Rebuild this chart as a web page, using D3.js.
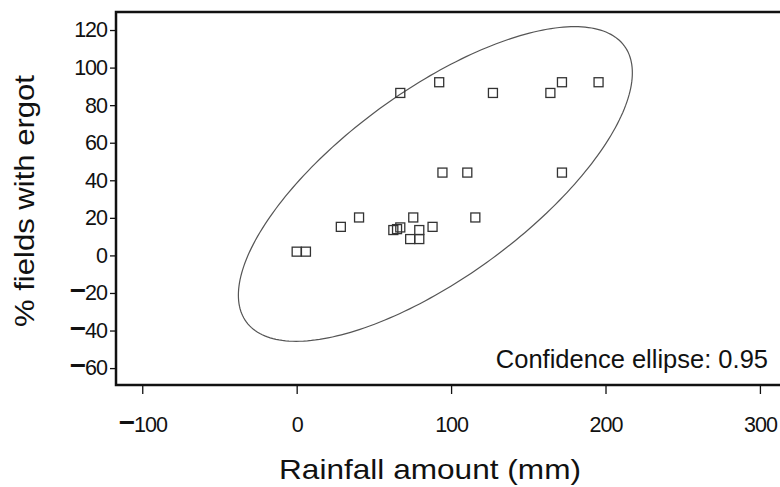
<!DOCTYPE html>
<html>
<head>
<meta charset="utf-8">
<script src="https://cdnjs.cloudflare.com/ajax/libs/d3/7.8.5/d3.min.js"></script>
<style>
  body { margin: 0; background: #fff; }
  svg { display: block; font-family: 'Liberation Sans', Arial, Helvetica, sans-serif; }
</style>
</head>
<body>
<svg id="chart" width="780" height="487"></svg>
<script>
// Rainfall (mm) vs. % fields with ergot, one entry per field survey
const rainfall = [0, 6, 28.6, 40.4, 62.6, 65, 67.1, 75.5, 79.4, 73.5, 79.4, 88, 115.7,
  94.4, 110.5, 171.8, 67.1, 92.3, 127.1, 164.3, 171.8, 195.5]
const ergot = [2, 2, 15.2, 20.2, 13.5, 14, 14.9, 20.2, 13.5, 8.7, 8.7, 15.2, 20.2,
  44.1, 44.1, 44.1, 86.5, 92.2, 86.5, 86.5, 92.2, 92.2]

const xTicks = [-100, 0, 100, 200, 300]
const yTicks = [-60, -40, -20, 0, 20, 40, 60, 80, 100, 120]

const ellipseLevel = 0.95
const chiSq = -2 * Math.log(1 - ellipseLevel) // chi-square quantile, 2 df

const svg = d3.select('#chart')

const x = d3.scaleLinear().domain([-117, 313]).range([116, 780])
const y = d3.scaleLinear().domain([-69, 129.6]).range([385, 12])

// Split a tick value into a heavy minus sign and the digits
function tickText (sel) {
  sel.each(function (d) {
    const t = d3.select(this).text('')
    if (d < 0) {
      t.append('tspan').attr('font-size', 28).attr('font-weight', 'bold').text('\u2212')
    }
    t.append('tspan').text(Math.abs(d))
  })
}

// x axis
const gx = svg.append('g')
  .attr('transform', 'translate(0,385)')
  .call(d3.axisBottom(x).tickValues(xTicks).tickSize(9).tickPadding(23))
gx.select('.domain').remove()
gx.selectAll('line').attr('stroke', '#111').attr('stroke-width', 1.3)
gx.selectAll('text')
  .attr('font-size', 21.5)
  .attr('letter-spacing', -1)
  .attr('fill', '#111')
  .call(tickText)

// y axis
const gy = svg.append('g')
  .attr('transform', 'translate(116,0)')
  .call(d3.axisLeft(y).tickValues(yTicks).tickSize(6).tickPadding(3))
gy.select('.domain').remove()
gy.selectAll('line').attr('stroke', '#111').attr('stroke-width', 1.3)
gy.selectAll('text')
  .attr('font-size', 21.5)
  .attr('letter-spacing', -1)
  .attr('fill', '#111')
  .call(tickText)

// Frame (right side runs off the picture)
svg.append('rect')
  .attr('x', x.range()[0])
  .attr('y', y.range()[1])
  .attr('width', 700)
  .attr('height', y.range()[0] - y.range()[1])
  .attr('fill', 'none')
  .attr('stroke', '#111')
  .attr('stroke-width', 2.5)

// Confidence ellipse from the sample mean and covariance
const n = rainfall.length
const mx = d3.mean(rainfall)
const my = d3.mean(ergot)
const sxx = d3.variance(rainfall)
const syy = d3.variance(ergot)
const sxy = d3.sum(rainfall, (v, i) => (v - mx) * (ergot[i] - my)) / (n - 1)
// Cholesky factor of the covariance matrix
const l11 = Math.sqrt(sxx)
const l21 = sxy / l11
const l22 = Math.sqrt(syy - l21 * l21)
const r = Math.sqrt(chiSq)
const angles = d3.range(0, 2 * Math.PI, Math.PI / 120)
const ellipsePts = angles.map(a => {
  const u = r * Math.cos(a)
  const v = r * Math.sin(a)
  return [mx + l11 * u, my + l21 * u + l22 * v]
})

svg.append('path')
  .datum(ellipsePts)
  .attr('d', d3.line().x(d => x(d[0])).y(d => y(d[1])).curve(d3.curveLinearClosed))
  .attr('fill', 'none')
  .attr('stroke', '#555')
  .attr('stroke-width', 1.2)

// Points as open squares
const size = 9
svg.append('g')
  .selectAll('rect')
  .data(rainfall.map((v, i) => [v, ergot[i]]))
  .enter()
  .append('rect')
  .attr('x', d => x(d[0]) - size / 2)
  .attr('y', d => y(d[1]) - size / 2)
  .attr('width', size)
  .attr('height', size)
  .attr('fill', 'none')
  .attr('stroke', '#333')
  .attr('stroke-width', 1.3)

// Labels
svg.append('text')
  .attr('x', 768)
  .attr('y', 368)
  .attr('text-anchor', 'end')
  .attr('font-size', 25.5)
  .attr('fill', '#111')
  .text('Confidence ellipse: ' + ellipseLevel)

svg.append('text')
  .attr('x', 279)
  .attr('y', 479)
  .attr('font-size', 28)
  .attr('textLength', 302)
  .attr('lengthAdjust', 'spacingAndGlyphs')
  .attr('fill', '#111')
  .text('Rainfall amount (mm)')

svg.append('text')
  .attr('transform', 'translate(34,327) rotate(-90)')
  .attr('font-size', 28)
  .attr('textLength', 252)
  .attr('lengthAdjust', 'spacingAndGlyphs')
  .attr('fill', '#111')
  .text('% fields with ergot')
</script>
</body>
</html>
